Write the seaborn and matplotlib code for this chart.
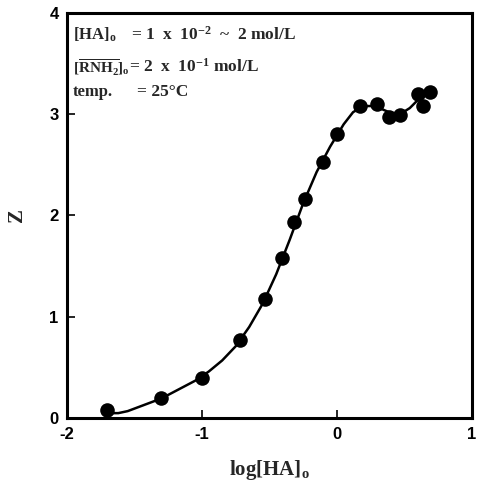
import matplotlib
matplotlib.use("Agg")
import matplotlib.pyplot as plt
import seaborn as sns
import pandas as pd

# measured points
log_ha = [-1.70, -1.30, -1.00, -0.72, -0.53, -0.41, -0.32, -0.24, -0.10, 0.00,
          0.17, 0.30, 0.385, 0.47, 0.60, 0.64, 0.69]
z_vals = [0.08, 0.20, 0.40, 0.77, 1.18, 1.58, 1.94, 2.16, 2.53, 2.80,
          3.08, 3.10, 2.97, 2.99, 3.20, 3.08, 3.22]

# fitted curve
curve_x = [-1.68, -1.62, -1.55, -1.45, -1.35, -1.25, -1.15, -1.05, -0.95, -0.85,
           -0.75, -0.65, -0.55, -0.45, -0.35, -0.25, -0.15, -0.05, 0.05, 0.12,
           0.20, 0.28, 0.35, 0.42, 0.48, 0.54, 0.60, 0.64]
curve_y = [0.05, 0.05, 0.07, 0.12, 0.17, 0.23, 0.30, 0.37, 0.46, 0.57,
           0.71, 0.90, 1.13, 1.42, 1.76, 2.12, 2.43, 2.68, 2.90, 3.02,
           3.08, 3.08, 3.04, 3.00, 3.01, 3.06, 3.14, 3.19]

x_ticks = [-2, -1, 0, 1]
y_ticks = [0, 1, 2, 3, 4]

sns.set_theme(style="white")
plt.rcParams["font.family"] = ["Liberation Serif", "DejaVu Serif"]
plt.rcParams["mathtext.fontset"] = "custom"
plt.rcParams["mathtext.rm"] = "Liberation Serif:bold"
plt.rcParams["mathtext.bf"] = "Liberation Serif:bold"
plt.rcParams["mathtext.it"] = "Liberation Serif:bold"
plt.rcParams["mathtext.default"] = "bf"

fig = plt.figure(figsize=(4.82, 4.92), dpi=100)
ax = fig.add_axes([0.139, 0.150, 0.840, 0.824])

pts = pd.DataFrame({"x": log_ha, "z": z_vals})
crv = pd.DataFrame({"x": curve_x, "z": curve_y})
sns.lineplot(data=crv, x="x", y="z", ax=ax, color="black", lw=1.8, sort=False)
sns.scatterplot(data=pts, x="x", y="z", ax=ax, color="black", s=110,
                edgecolor="black", linewidth=0, zorder=3)

ax.set_xlim(-2, 1)
ax.set_ylim(0, 4)
ax.set_xticks(x_ticks)
ax.set_yticks(y_ticks)
ax.set_xticklabels([str(t) for t in x_ticks], fontfamily="Liberation Sans",
                   fontweight="bold", fontsize=12)
ax.set_yticklabels([str(t) for t in y_ticks], fontfamily="Liberation Sans",
                   fontweight="bold", fontsize=12)
ax.tick_params(direction="in", length=6, width=1.2, colors="black",
               left=True, bottom=True, top=False, right=False, pad=6)
for s in ax.spines.values():
    s.set_linewidth(2.2)
    s.set_color("black")

ax.set_xlabel(r"log[HA]$_\mathrm{o}$", fontsize=15, fontweight="bold", labelpad=12)
ax.set_ylabel("Z", fontsize=15, fontweight="bold", labelpad=16)

kw = dict(transform=ax.transAxes, va="center", fontweight="bold")
ax.text(0.015, 0.946, r"[HA]$_\mathrm{o}$", fontsize=12, **kw)
ax.text(0.157, 0.946, r"= 1  x  10$^{-2}$  ~  2 mol/L", fontsize=12.5, **kw)
ax.text(0.015, 0.866, r"[$\overline{\mathrm{RNH_2}}$]$_\mathrm{o}$", fontsize=11, **kw)
ax.text(0.152, 0.866, r"= 2  x  10$^{-1}$ mol/L", fontsize=12.5, **kw)
ax.text(0.015, 0.805, "temp.", fontsize=12, **kw)
ax.text(0.173, 0.805, "= 25\u00b0C", fontsize=12.5, **kw)

fig.savefig("out.png", dpi=100)
